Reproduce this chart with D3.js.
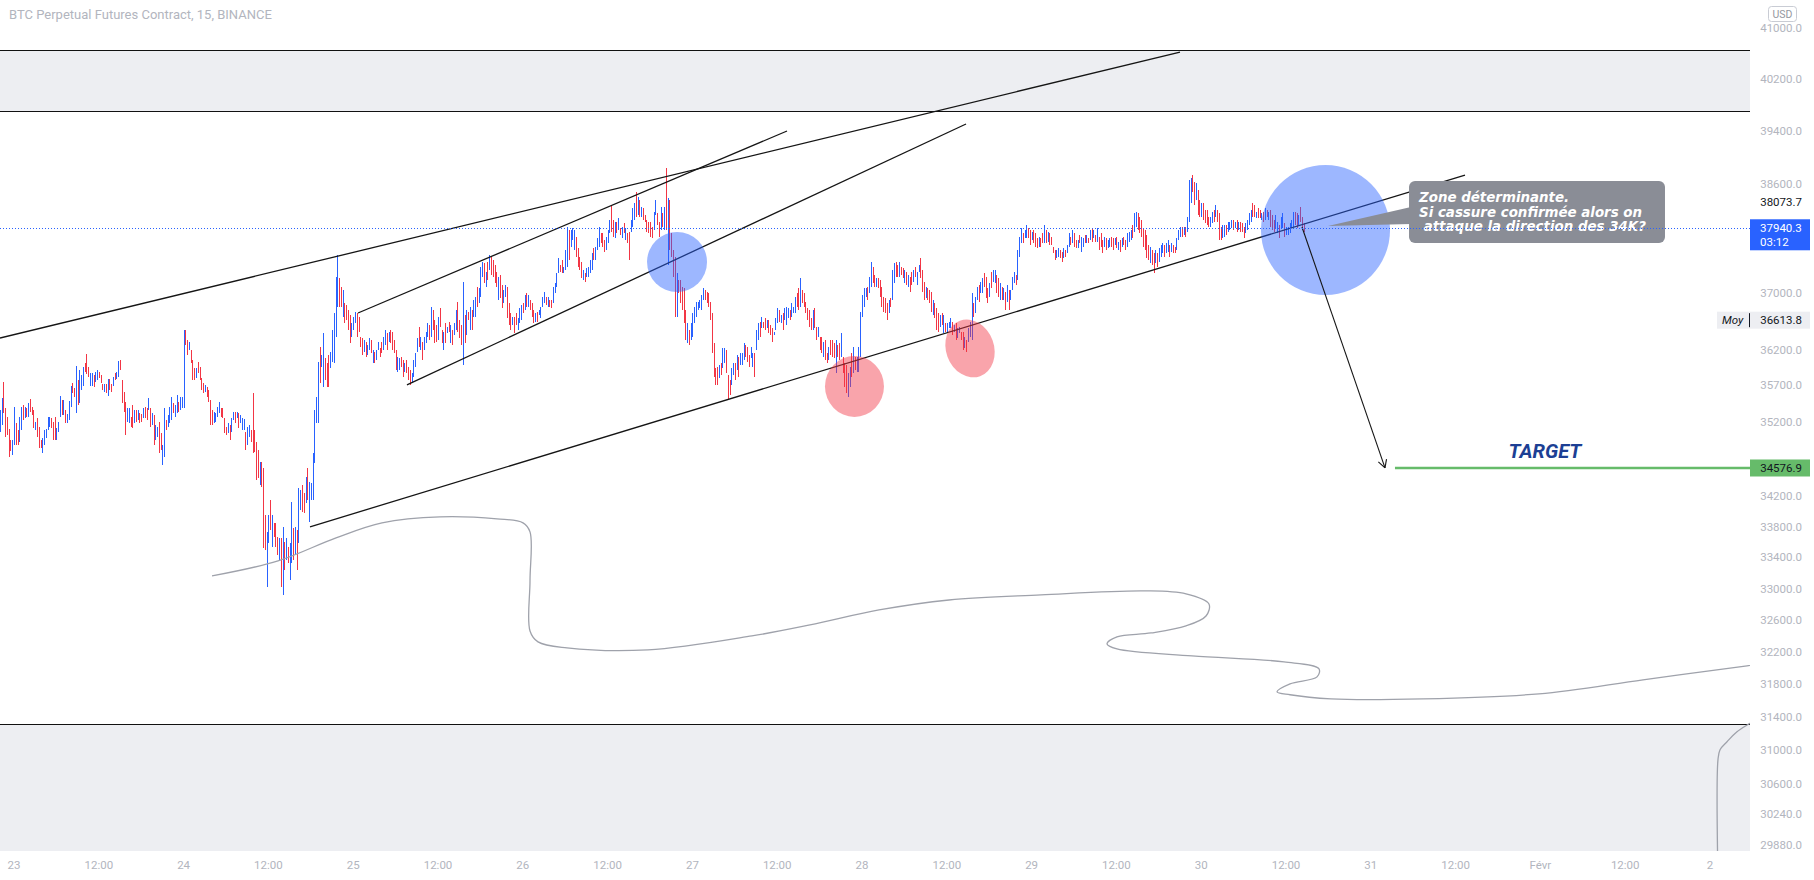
<!DOCTYPE html>
<html lang="fr">
<head>
<meta charset="utf-8">
<title>BTC Perpetual Futures Contract, 15, BINANCE</title>
<script src="https://cdnjs.cloudflare.com/ajax/libs/d3/7.8.5/d3.min.js"></script>
<style>
html,body{margin:0;padding:0;background:#ffffff;}
svg{display:block;}
</style>
</head>
<body>
<svg id="chart" width="1814" height="880"></svg>
<script>
// ================= DATA =================
const title = "BTC Perpetual Futures Contract, 15, BINANCE";
const currency = "USD";
const seriesStart = "2022-01-22T22:00:00Z";   // first 15-minute bar
const barMinutes = 15;
const firstOpen = 35150;

// 15-minute bars, each [high, low, close]; open = previous close
const jan22 = [[35363,35064,35290],[35530,35160,35440],[35750,35320,35425],[35390,35000,35095],[35270,35025,35085],[35105,34725,34820],[34955,34800,34810],[34955,34750,34900]];
const jan23 = [[35405,34885,35275],[35190,34885,34960],[35090,34885,34940],[35270,34930,35180],[35405,35090,35325],[35430,35225,35280],[35405,35255,35365],[35390,35270,35300],
[35460,35270,35410],[35515,35335,35380],[35405,35295,35320],[35365,35120,35180],[35200,35090,35195],[35255,34995,35060],[35130,34845,34920],[34955,34845,34870],
[34980,34780,34930],[35090,34885,35040],[35105,34980,35075],[35270,35090,35225],[35270,35130,35235],[35255,35120,35150],[35200,34955,35015],[35270,34955,34990],
[35120,34955,35075],[35200,35065,35165],[35555,35270,35485],[35500,35295,35345],[35500,35295,35450],[35365,35185,35230],[35310,35185,35280],[35485,35225,35420],
[35695,35405,35620],[35735,35595,35600],[35665,35540,35570],[35970,35320,35810],[35775,35430,35515],[35915,35460,35800],[35845,35640,35820],[35955,35695,35890],
[36010,35880,35885],[36140,35860,35870],[35955,35815,35850],[35875,35690,35850],[35875,35690,35860],[35845,35680,35815],[35885,35750,35870],[35915,35775,35895],
[35885,35805,35815],[35845,35735,35750],[35720,35640,35650],[35720,35610,35700],[35720,35595,35615],[35790,35555,35760],[35790,35640,35660],[35720,35610,35625],
[35820,35695,35800],[35875,35775,35790],[35885,35790,35870],[36040,35820,36010],[36055,35915,35935],[35780,35460,35500],[35610,35335,35370],[35475,35025,35090],
[35390,35200,35220],[35390,35185,35350],[35270,35130,35250],[35430,35120,35160],[35365,35185,35330],[35365,35200,35220],[35365,35225,35340],[35320,35185,35300],
[35310,35200,35290],[35390,35255,35370],[35405,35255,35275],[35390,35225,35245],[35530,35365,35380],[35390,35130,35160],[35320,35160,35300],[35295,34885,34950],
[35160,34955,34980],[35130,34995,35100],[35200,34780,34850],[35050,34820,34840],[34885,34620,34850],[35390,34725,35300],[35225,35090,35110],[35295,35130,35270],
[35405,35185,35370],[35540,35225,35480],[35460,35320,35340],[35430,35270,35400],[35570,35320,35530],[35475,35335,35350],[35540,35365,35500],[35540,35390,35520]];
const jan24 = [[36475,35390,36300],[36475,36265,36280],[36335,36125,36150],[36305,36195,36280],[36195,36010,36030],[36055,35775,35800],[35945,35775,35790],[35945,35805,35920],
[36025,35875,35890],[35955,35775,35800],[35805,35640,35660],[35735,35595,35610],[35705,35610,35690],[35680,35540,35560],[35640,35475,35490],[35500,35160,35190],
[35365,35160,35175],[35335,35185,35310],[35320,35200,35315],[35405,35270,35380],[35475,35320,35450],[35390,35270,35290],[35390,35255,35270],[35255,35050,35070],
[35130,35025,35035],[35185,35050,35160],[35160,34955,34980],[35255,35065,35230],[35335,35225,35320],[35335,35185,35200],[35335,35255,35325],[35320,35120,35140],
[35295,35185,35195],[35255,35090,35230],[35240,35090,35235],[35065,34820,34850],[35130,34885,35090],[35160,34995,35140],[35090,34930,34950],[35595,34780,34820],
[35090,34790,34805],[34930,34420,34470],[34820,34445,34460],[34660,34350,34600],[34660,34325,34350],[34580,33525,33560],[33955,33500,33520],[33730,33020,33650],
[33955,33590,33900],[34150,33760,33800],[33955,33540,33900],[33850,33665,33690],[33850,33540,33580],[33665,33435,33450],[33655,33370,33600],[33655,33020,33080],
[33800,32920,33700],[33600,33240,33280],[33655,33370,33600],[33540,33330,33360],[33590,33110,33530],[34125,33330,34000],[33785,33370,33420],[33800,33435,33750],
[33760,33240,33290],[34310,33590,34200],[34285,34020,34250],[34350,33995,34040],[34245,33980,34000],[34460,34115,34400],[34580,34150,34200],[34390,33865,34330],
[34380,34150,34360],[34780,34150,34700],[35365,34645,35250],[35540,35185,35480],[36025,35185,35900],[36235,35735,35800],[36125,35955,36090],[36435,35680,36350],
[36080,35775,35820],[36010,35680,35720],[36125,35680,35700],[36165,35945,36120],[36475,36025,36400],[36715,36010,36600],[37230,36375,37100],[37550,36800,37400],
[37215,36800,36850],[37085,36800,36830],[37045,36660,36980],[36860,36575,36820],[36830,36615,36640],[36760,36475,36500],[36690,36290,36320],[36575,36375,36390]];
const jan25 = [[36660,36475,36620],[36730,36575,36710],[36715,36375,36680],[36660,36445,36470],[36375,36235,36250],[36360,36125,36150],[36335,36165,36300],[36305,36095,36120],
[36265,36125,36230],[36360,36195,36330],[36335,36150,36170],[36195,36010,36170],[36165,36010,36030],[36195,36055,36070],[36305,36195,36290],[36220,36095,36200],
[36305,36150,36170],[36375,36195,36340],[36475,36265,36440],[36435,36195,36230],[36445,36305,36420],[36475,36290,36310],[36445,36195,36220],[36335,36150,36170],
[36195,35915,35950],[36095,35885,36060],[36080,35915,36070],[36095,35955,35970],[36055,35820,35850],[36010,35885,35990],[36055,35875,35890],[35955,35775,35800],
[35915,35705,35730],[35875,35735,35850],[36055,35820,36010],[36150,35955,36120],[36360,36165,36330],[36520,36235,36270],[36375,36195,36340],[36305,36055,36080],
[36375,36195,36210],[36445,36290,36420],[36575,36375,36540],[36545,36335,36360],[36800,36375,36740],[36760,36475,36730],[36615,36290,36330],[36545,36305,36320],
[36660,36335,36620],[36785,36520,36540],[36475,36290,36310],[36445,36195,36420],[36575,36290,36320],[36520,36435,36510],[36590,36445,36460],[36545,36290,36500],
[36475,36265,36280],[36575,36405,36550],[36760,36475,36720],[36875,36445,36490],[36615,36360,36380],[36545,36265,36290],[37160,35985,37050],[36690,36290,36640],
[36760,36405,36720],[36730,36615,36630],[36800,36475,36770],[36760,36475,36500],[36900,36660,36870],[36945,36660,36920],[37085,36800,36830],[37075,36860,36880],
[37375,36945,37300],[37450,37230,37420],[37435,37145,37170],[37305,37085,37280],[37450,37190,37210],[37550,37330,37520],[37520,37260,37280],[37475,37230,37245],
[37405,37145,37160],[37305,37085,37100],[37230,36900,37180],[37260,36930,36960],[37115,36785,36810],[37045,36860,36870],[37115,36945,37090],[37085,36645,36680],
[36860,36545,36570],[36715,36475,36490],[36660,36545,36640],[36660,36435,36620],[36715,36545,36560],[36645,36475,36630],[36785,36575,36750],[36830,36615,36800]];
const jan26 = [[36860,36715,36730],[36975,36760,36940],[37000,36800,36820],[36975,36800,36950],[36900,36760,36775],[36860,36660,36680],[36760,36575,36590],[36715,36590,36700],
[36730,36590,36605],[36760,36690,36695],[36800,36645,36780],[36945,36800,36810],[37015,36860,36870],[36945,36830,36840],[36945,36800,36930],[36900,36800,36810],
[36900,36785,36795],[37085,36860,37050],[37145,37000,37120],[37290,37085,37260],[37505,37290,37460],[37405,37305,37395],[37475,37290,37310],[37375,37290,37360],
[37620,37330,37580],[37960,37375,37890],[37915,37475,37520],[37915,37665,37690],[37945,37770,37780],[37915,37620,37880],[37810,37520,37550],[37650,37375,37400],
[37520,37330,37345],[37450,37215,37235],[37330,37190,37310],[37290,37160,37170],[37360,37230,37340],[37375,37230,37360],[37475,37290,37450],[37580,37330,37550],
[37650,37475,37490],[37665,37475,37640],[37800,37620,37780],[37960,37665,37920],[37870,37725,37860],[37870,37665,37680],[37770,37595,37610],[37810,37620,37640],
[37915,37725,37890],[38060,37870,38040],[38285,37885,37910],[38060,37810,37830],[38035,37800,38000],[38035,37870,37890],[38090,37915,37930],[37945,37840,37850],
[37960,37800,37940],[38020,37870,37885],[37945,37770,37930],[37870,37725,37735],[37885,37475,37520],[38060,37885,38030],[38240,37960,38200],[38315,38060,38290],
[38475,38105,38140],[38405,38135,38160],[38360,38105,38120],[38255,38105,38230],[38240,38060,38075],[38135,38035,38045],[38060,37885,38040],[38035,37870,37885],
[38035,37810,37830],[37960,37800,37810],[38180,37915,38150],[38360,38135,38160],[38165,37990,38140],[38035,37810,37830],[38255,37915,38220],[38165,37960,37975],
[38255,37915,38220],[38840,37915,37950],[38390,37405,38300],[38360,37620,37660],[37870,37520,37545],[37620,37230,37260],[37520,36660,36720],[37290,36660,37200],
[37190,37000,37020],[37190,36860,36880],[37085,36760,36780],[37075,36575,36610],[36760,36335,36370],[36575,36290,36540],[36475,36265,36280],[36575,36335,36540]];
const jan27 = [[36715,36375,36680],[36800,36575,36780],[36875,36660,36850],[36875,36760,36865],[36900,36785,36890],[36975,36760,36950],[37075,36900,37050],[37045,36900,36915],
[37015,36860,36880],[37000,36800,36820],[36875,36615,36640],[36715,36150,36200],[36290,35820,35860],[35945,35705,35730],[35955,35705,35720],[35985,35805,35960],
[36010,35845,35860],[36220,35945,36190],[36220,36010,36200],[36195,35875,35900],[35845,35500,35780],[35775,35570,35740],[35945,35705,35900],[36010,35845,35990],
[36010,35775,35800],[36125,35915,36100],[36095,35820,35845],[36150,35985,36130],[36150,35985,36140],[36290,36055,36260],[36265,36095,36250],[36235,36025,36045],
[36125,35955,35970],[36235,36080,36095],[36150,35955,36120],[36150,35820,36110],[36475,36195,36440],[36575,36335,36550],[36590,36375,36400],[36660,36505,36640],
[36590,36505,36580],[36645,36475,36490],[36615,36505,36600],[36615,36435,36450],[36545,36405,36420],[36505,36305,36320],[36445,36405,36410],[36645,36475,36620],
[36785,36575,36760],[36760,36590,36610],[36690,36575,36670],[36715,36475,36500],[36785,36615,36760],[36800,36545,36770],[36785,36645,36780],[36760,36615,36630],
[36860,36660,36680],[36800,36715,36790],[36945,36715,36920],[37000,36800,36820],[37075,36760,36790],[37215,36800,37150],[37045,36860,36880],[37000,36800,36815],
[36875,36715,36730],[36785,36615,36630],[36760,36520,36535],[36645,36475,36490],[36760,36475,36720],[36785,36505,36530],[36520,36335,36350],[36520,36375,36500],
[36375,36195,36210],[36375,36150,36170],[36305,36095,36280],[36335,36055,36080],[36150,36010,36020],[36235,36055,36210],[36335,36125,36145],[36335,36095,36110],
[36290,36080,36095],[36335,35875,36300],[36265,36095,36110],[36290,36055,36070],[36435,36095,36120],[36095,35875,36070],[36010,35680,35710],[35985,35595,35620],
[35875,35540,35820],[35955,35680,35920],[36150,35820,35850],[36235,35875,36200],[36095,35915,35930],[36095,35885,36060],[36235,35885,36200],[36730,36095,36650]];
const jan28 = [[36975,36660,36940],[37075,36800,37040],[37075,36945,37060],[37085,36900,36920],[37230,37000,37200],[37450,37085,37400],[37375,37145,37170],[37260,37085,37100],
[37215,37085,37200],[37215,37075,37190],[37190,36945,36960],[37085,36800,36820],[36945,36730,36750],[36930,36715,36730],[36860,36615,36640],[36900,36715,36880],
[36930,36800,36810],[37330,36900,37280],[37435,37145,37400],[37450,37230,37250],[37405,37230,37245],[37450,37230,37420],[37375,37260,37270],[37360,37215,37230],
[37330,37145,37310],[37305,37115,37130],[37260,37085,37240],[37230,37015,37220],[37305,37115,37130],[37330,37160,37310],[37375,37230,37245],[37305,37115,37290],
[37405,37305,37310],[37505,37215,37240],[37330,37015,37040],[37160,36900,36920],[37085,36930,37070],[37075,36900,36915],[37045,36860,36875],[37015,36730,36750],
[36900,36690,36880],[36860,36645,36660],[36785,36475,36500],[36715,36445,36460],[36690,36520,36670],[36715,36545,36560],[36690,36435,36670],[36575,36445,36460],
[36575,36435,36560],[36590,36505,36580],[36645,36505,36630],[36590,36405,36420],[36545,36445,36535],[36575,36335,36360],[36505,36360,36375],[36520,36435,36510],
[36445,36335,36345],[36445,36195,36220],[36375,36220,36360],[36335,36165,36180],[36505,36305,36490],[36590,36375,36570],[37000,36335,36940],[36860,36660,36830],
[36945,36715,36920],[37085,36900,37060],[37115,36875,36900],[37160,37000,37140],[37215,37000,37190],[37290,37085,37100],[37230,36930,36950],[37075,36860,36880],
[37145,36945,37120],[37305,37075,37090],[37330,37160,37180],[37330,37145,37310],[37260,37000,37020],[37215,36945,36970],[37145,36900,37120],[37085,36900,36920],
[37075,36900,37060],[37015,36760,36780],[37115,36875,37090],[37045,36760,37020],[37045,36900,37040],[37230,37045,37200],[37305,37145,37290],[37260,37115,37250],
[37620,37190,37560],[37810,37520,37780],[37945,37725,37920],[37870,37725,37740],[37915,37800,37810],[37990,37800,37815],[37945,37800,37810],[37915,37695,37715]];
const jan29 = [[37885,37770,37870],[37915,37725,37740],[37870,37665,37680],[37800,37650,37660],[37810,37665,37800],[37800,37665,37790],[37870,37725,37740],[37990,37725,37960],
[37915,37725,37740],[37885,37740,37750],[37870,37695,37710],[37810,37695,37700],[37665,37580,37590],[37620,37475,37490],[37620,37505,37515],[37650,37520,37640],
[37620,37505,37520],[37595,37450,37460],[37650,37505,37630],[37620,37520,37530],[37695,37580,37680],[37870,37665,37840],[37810,37695,37710],[37915,37725,37740],
[37870,37665,37680],[37770,37650,37660],[37770,37650,37765],[37840,37725,37735],[37810,37595,37790],[37800,37665,37790],[37840,37725,37735],[37840,37725,37830],
[37800,37725,37730],[37915,37770,37900],[37945,37740,37760],[37915,37800,37905],[37840,37740,37835],[37945,37740,37930],[37810,37620,37790],[37870,37665,37680],
[37770,37580,37600],[37810,37665,37795],[37800,37620,37640],[37770,37650,37660],[37800,37665,37790],[37810,37665,37680],[37800,37620,37640],[37800,37695,37790],
[37810,37650,37665],[37740,37620,37730],[37770,37595,37610],[37800,37665,37790],[37810,37695,37705],[37770,37620,37635],[37870,37665,37850],[37885,37740,37870],
[37915,37770,37900],[37990,37800,37815],[38165,37885,38130],[38180,37960,38160],[38165,37915,37930],[38105,37870,37890],[38060,37810,37830],[37945,37665,37690],
[37915,37620,37645],[37840,37505,37530],[37695,37475,37490],[37665,37435,37640],[37620,37405,37600],[37580,37290,37320],[37620,37435,37600],[37580,37375,37560],
[37650,37450,37630],[37695,37520,37680],[37725,37580,37715],[37695,37520,37535],[37725,37580,37710],[37770,37595,37750],[37695,37520,37540],[37725,37595,37710],
[37695,37580,37690],[37665,37580,37590],[37800,37620,37780],[37915,37770,37900],[37960,37810,37945],[37960,37810,37825],[37960,37840,37950],[37960,37810,37825],
[38105,37885,38090],[38655,38035,38560],[38685,38315,38650],[38730,38475,38500],[38625,38285,38310],[38610,38360,38380],[38505,38135,38160],[38360,38105,38120]];
const jan30 = [[38315,38105,38290],[38315,38060,38080],[38210,38020,38040],[38210,37990,38010],[38105,37960,37970],[38105,37960,38090],[38180,38020,38165],[38210,38035,38050],
[38285,38105,38270],[38210,38035,38050],[38165,37770,37800],[37960,37770,37790],[37990,37800,37970],[37990,37810,37975],[37990,37840,37850],[38035,37885,38020],
[38035,37915,38030],[38060,37945,38050],[38060,37915,37930],[38035,37945,38025],[38060,37885,37900],[38035,37915,38020],[38035,37885,37900],[38020,37885,37895],
[37960,37800,37815],[38020,37870,38010],[38060,37915,38050],[38165,37990,38150],[38210,38035,38195],[38315,38105,38125],[38285,38105,38115],[38180,38090,38170],
[38240,38090,38100],[38210,38090,38095],[38165,38060,38155],[38180,38035,38045],[38240,38060,38225],[38210,38105,38115],[38180,38060,38170],[38210,37960,37980],
[38135,37915,37930],[38060,37885,37900],[38135,37945,37960],[38035,37870,38020],[37990,37800,37820],[38105,37945,37960],[38165,37945,38150],[38020,37810,37830],
[37960,37840,37850],[37960,37840,37950],[38020,37870,38005],[38060,37945,38050],[38180,37960,38165],[38180,37990,38005],[38165,37945,37965],[38135,37990,38120],
[38255,38035,38050],[38105,37915,37990],[38020,37885,37940.3]];

// axes
const priceTicks = [41000, 40200, 39400, 38600, 37000, 36200, 35700, 35200, 34200, 33800, 33400, 33000, 32600, 32200, 31800, 31400, 31000, 30600, 30240, 29880];
const timeOrigin = "2022-01-23T00:00:00Z";   // annotation times are hours after this
const timeTicks = [[0,"23"],[12,"12:00"],[24,"24"],[36,"12:00"],[48,"25"],[60,"12:00"],[72,"26"],[84,"12:00"],[96,"27"],[108,"12:00"],[120,"28"],[132,"12:00"],[144,"29"],[156,"12:00"],[168,"30"],[180,"12:00"],[192,"31"],[204,"12:00"],[216,"Févr"],[228,"12:00"],[240,"2"]];

// price labels
const lastPrice = 37940.3;
const countdown = "03:12";
const markerPrice = 38073.7;
const averageName = "Moy";
const averagePrice = 36613.8;
const targetPrice = 34576.9;

// drawings: [hours after timeOrigin, price]
const zones = [[40652, 39703], [31314, 29000]];
const trendLines = [
  [[-1.98, 36362], [165.0, 40620]],
  [[48.68, 36716], [109.39, 39397]],
  [[55.61, 35707], [134.72, 39504]],
  [[41.89, 33798], [205.33, 38731]]
];
const arrowLine = [[182.26, 37959], [194.01, 34578]];
const targetLineStart = 195.42;
const targetText = "TARGET";
const targetTextAt = [216.65, 34712];
const ellipsesBlue = [[89.58, 98.07, 37886, 37016, 0], [176.46, 194.72, 38882, 36973, 0]];
const ellipsesRed = [[114.76, 123.11, 36110, 35268, 0], [131.89, 138.68, 36631, 35804, -20]];
const calloutTip = [185.94, 37974];
const calloutBox = [[197.41, 38641], [233.63, 37724]];
const calloutTailBase = [38254, 38004];
const calloutLines = ["Zone déterminante.", "Si cassure confirmée alors on", " attaque la direction des 34K?"];
const freehandA = [[28.02,33162],[37.36,33355],[45.57,33654],[52.08,33850],[60.28,33929],[68.35,33902],[72.03,33850],[73.02,33732],[73.02,33100],[73.02,32462],[74.15,32325],[78.25,32250],[89.72,32225],[104.43,32400],[112.64,32538],[122.41,32727],[132.31,32854],[145.33,32919],[160.05,32970],[165.85,32932],[169.10,32803],[168.68,32651],[165.85,32526],[160.90,32437],[156.08,32387],[154.67,32300],[156.08,32237],[166.70,32150],[179.72,32076],[184.67,31989],[184.39,31890],[180.57,31804],[178.73,31706],[180.57,31670],[186.37,31620],[199.39,31620],[215.80,31682],[230.52,31854],[245.24,32027],[252,32110]];
const freehandB = [[248,31500],[246.36,31364],[243.82,31219],[242.41,31099],[241.42,31003],[241.13,30885],[241.13,29480]];

// ================= RENDER =================
const W = 1814, H = 880, paneRight = 1750, paneBottom = 851;
const upColor = "#2962ff", downColor = "#f23645";
const axisFont = "Roboto, 'Liberation Sans', sans-serif";
const svg = d3.select("#chart");

const x = d3.scaleUtc().domain([new Date("2022-01-23T00:00:00Z"), new Date("2022-02-02T00:00:00Z")]).range([14, 1710]);
const y = d3.scaleLog().domain([41000, 29880]).range([28, 845]);
const tOrigin = Date.parse(timeOrigin);
const T = h => new Date(tOrigin + h * 3600e3);
const px = p => x(T(p[0]));
const py = p => y(p[1]);

svg.append("rect").attr("width", W).attr("height", H).attr("fill", "#ffffff");
svg.append("defs").append("clipPath").attr("id", "pane")
  .append("rect").attr("x", 0).attr("y", 0).attr("width", paneRight).attr("height", paneBottom);
const pane = svg.append("g").attr("clip-path", "url(#pane)");

// zones
zones.forEach(z => {
  const y1 = Math.round(y(z[0])), y2 = Math.round(y(z[1]));
  pane.append("rect").attr("x", 0).attr("y", y1).attr("width", paneRight).attr("height", y2 - y1).attr("fill", "#edeef2");
  [y1, y2].forEach(v => pane.append("line").attr("x1", 0).attr("x2", paneRight).attr("y1", v + 0.5).attr("y2", v + 0.5)
    .attr("stroke", "#111111").attr("stroke-width", 1.2));
});

// bars
const t0 = Date.parse(seriesStart);
let prevClose = firstOpen;
const bars = [jan22, jan23, jan24, jan25, jan26, jan27, jan28, jan29, jan30].flat().map((b, i) => {
  const d = {t: new Date(t0 + i * barMinutes * 60000), h: b[0], l: b[1], c: b[2], o: prevClose};
  prevClose = b[2];
  return d;
});
pane.append("g").attr("shape-rendering", "crispEdges").selectAll("rect").data(bars).join("rect")
  .attr("x", d => Math.round(x(d.t)))
  .attr("y", d => Math.round(y(d.h)))
  .attr("width", 1)
  .attr("height", d => Math.max(1, Math.round(y(d.l)) - Math.round(y(d.h))))
  .attr("fill", d => d.c >= d.o ? upColor : downColor);

// freehand grey curve
const curveLine = d3.line().x(px).y(py).curve(d3.curveCatmullRom.alpha(0.5));
[freehandA, freehandB].forEach(pts => pane.append("path").attr("d", curveLine(pts))
  .attr("fill", "none").attr("stroke", "#9fa2ab").attr("stroke-width", 1.3));

// trend lines
trendLines.forEach(l => pane.append("line")
  .attr("x1", px(l[0])).attr("y1", py(l[0])).attr("x2", px(l[1])).attr("y2", py(l[1]))
  .attr("stroke", "#151515").attr("stroke-width", 1.3));

// ellipses
const drawEllipse = (e, fill) => {
  const x1 = x(T(e[0])), x2 = x(T(e[1])), y1 = y(e[2]), y2 = y(e[3]);
  const cx = (x1 + x2) / 2, cy = (y1 + y2) / 2;
  pane.append("ellipse").attr("cx", cx).attr("cy", cy).attr("rx", Math.abs(x2 - x1) / 2).attr("ry", Math.abs(y2 - y1) / 2)
    .attr("transform", `rotate(${e[4]},${cx},${cy})`).attr("fill", fill);
};
ellipsesRed.forEach(e => drawEllipse(e, "rgba(242,54,69,0.45)"));
ellipsesBlue.forEach(e => drawEllipse(e, "rgba(41,98,255,0.46)"));

// arrow
{
  const ax1 = px(arrowLine[0]), ay1 = py(arrowLine[0]), ax2 = px(arrowLine[1]), ay2 = py(arrowLine[1]);
  pane.append("line").attr("x1", ax1).attr("y1", ay1).attr("x2", ax2).attr("y2", ay2).attr("stroke", "#151515").attr("stroke-width", 1.1);
  const ang = Math.atan2(ay2 - ay1, ax2 - ax1), len = 9, spread = 0.5;
  [ang + Math.PI - spread, ang + Math.PI + spread].forEach(a => pane.append("line")
    .attr("x1", ax2).attr("y1", ay2).attr("x2", ax2 + len * Math.cos(a)).attr("y2", ay2 + len * Math.sin(a))
    .attr("stroke", "#151515").attr("stroke-width", 1.1));
}

// target line + text
pane.append("line").attr("x1", x(T(targetLineStart))).attr("x2", paneRight)
  .attr("y1", y(targetPrice)).attr("y2", y(targetPrice)).attr("stroke", "#66bb6a").attr("stroke-width", 2.4);
pane.append("text").attr("x", px(targetTextAt)).attr("y", py(targetTextAt)).attr("text-anchor", "middle")
  .attr("font-family", "Roboto, sans-serif").attr("font-weight", 700).attr("font-style", "italic").attr("font-size", 20)
  .attr("fill", "#1c3f94").text(targetText);

// callout
{
  const bx1 = px(calloutBox[0]), by1 = py(calloutBox[0]), bx2 = px(calloutBox[1]), by2 = py(calloutBox[1]);
  const fill = "#8a8d96";
  pane.append("path").attr("d", `M${px(calloutTip)},${py(calloutTip)} L${bx1 + 2},${y(calloutTailBase[0])} L${bx1 + 2},${y(calloutTailBase[1])} Z`).attr("fill", fill);
  pane.append("rect").attr("x", bx1).attr("y", by1).attr("width", bx2 - bx1).attr("height", by2 - by1).attr("rx", 6).attr("fill", fill);
  calloutLines.forEach((s, i) => pane.append("text")
    .attr("x", bx1 + 10).attr("y", by1 + 21 + i * 14.5)
    .attr("font-family", "'DejaVu Sans', Verdana, sans-serif").attr("font-weight", 700).attr("font-style", "italic")
    .attr("font-size", 13.4).attr("fill", "#ffffff").style("white-space", "pre").text(s));
}

// last price dotted line (on top)
pane.append("line").attr("x1", 0).attr("x2", paneRight).attr("y1", Math.round(y(lastPrice)) + 0.5).attr("y2", Math.round(y(lastPrice)) + 0.5)
  .attr("stroke", upColor).attr("stroke-width", 1).attr("stroke-dasharray", "1,2");

// ---- title ----
svg.append("text").attr("x", 9).attr("y", 19).attr("font-family", axisFont).attr("font-size", 13)
  .attr("fill", "#b2b5be").text(title);

// ---- price axis ----
const axisG = svg.append("g").attr("font-family", axisFont).attr("font-size", 11.5);
axisG.selectAll("text.tick").data(priceTicks).join("text").attr("class", "tick")
  .attr("x", 1802).attr("y", d => y(d) + 4).attr("text-anchor", "end").attr("fill", "#b2b5be")
  .text(d => d.toFixed(1));

// currency badge
svg.append("rect").attr("x", 1768.5).attr("y", 6.5).attr("width", 28).attr("height", 15).attr("rx", 3)
  .attr("fill", "#ffffff").attr("stroke", "#c9ccd4");
svg.append("text").attr("x", 1782.5).attr("y", 17.5).attr("text-anchor", "middle").attr("font-family", axisFont)
  .attr("font-size", 10.5).attr("fill", "#9598a1").text(currency);

// marker price label
axisG.append("text").attr("x", 1802).attr("y", y(markerPrice) - 13).attr("text-anchor", "end").attr("fill", "#131722").text(markerPrice.toFixed(1));

// last price box
{
  const cy = y(lastPrice);
  svg.append("rect").attr("x", 1750).attr("y", cy - 9).attr("width", 60).attr("height", 31).attr("fill", upColor);
  svg.append("text").attr("x", 1760).attr("y", cy + 4).attr("font-family", axisFont).attr("font-size", 11.5).attr("fill", "#ffffff").text(lastPrice.toFixed(1));
  svg.append("text").attr("x", 1760).attr("y", cy + 18).attr("font-family", axisFont).attr("font-size", 11.5).attr("fill", "#ffffff").text(countdown);
}

// average label
{
  const cy = y(averagePrice);
  svg.append("rect").attr("x", 1717).attr("y", cy - 8.5).attr("width", 93).attr("height", 17).attr("fill", "#edeef2");
  svg.append("text").attr("x", 1722).attr("y", cy + 4).attr("font-family", axisFont).attr("font-style", "italic").attr("font-size", 11.5).attr("fill", "#131722").text(averageName);
  svg.append("line").attr("x1", 1749.5).attr("x2", 1749.5).attr("y1", cy - 7).attr("y2", cy + 7).attr("stroke", "#131722").attr("stroke-width", 1);
  svg.append("text").attr("x", 1802).attr("y", cy + 4).attr("text-anchor", "end").attr("font-family", axisFont).attr("font-size", 11.5).attr("fill", "#131722").text(averagePrice.toFixed(1));
}

// target price box
{
  const cy = y(targetPrice);
  svg.append("rect").attr("x", 1750).attr("y", cy - 8.5).attr("width", 60).attr("height", 17).attr("fill", "#66bb6a");
  svg.append("text").attr("x", 1802).attr("y", cy + 4).attr("text-anchor", "end").attr("font-family", axisFont).attr("font-size", 11.5).attr("fill", "#131722").text(targetPrice.toFixed(1));
}

// ---- time axis ----
svg.append("g").attr("font-family", axisFont).attr("font-size", 11.5)
  .selectAll("text").data(timeTicks).join("text")
  .attr("x", d => x(T(d[0]))).attr("y", 869).attr("text-anchor", "middle").attr("fill", "#b2b5be")
  .text(d => d[1]);
</script>
</body>
</html>
